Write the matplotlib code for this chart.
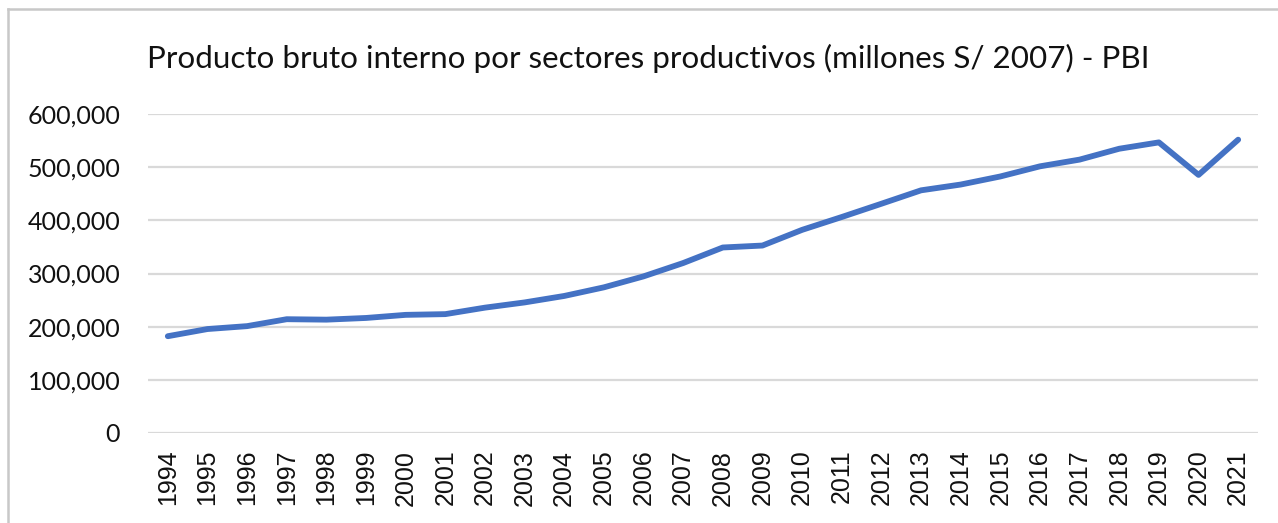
import matplotlib
matplotlib.use("Agg")
import matplotlib.pyplot as plt
from matplotlib.ticker import FuncFormatter, MultipleLocator
from matplotlib.lines import Line2D

# Producto bruto interno (millones de soles de 2007)
years = list(range(1994, 2022))
pbi = [182044, 195536, 201009, 214028, 213190, 216377, 222207, 223580,
       235773, 245593, 257770, 273971, 294598, 319693, 348923, 352584,
       382081, 406256, 431199, 456435, 467308, 482506, 501581, 514215,
       534665, 546605, 485455, 551714]
title = "Producto bruto interno por sectores productivos (millones S/ 2007) - PBI"

W, H = 1278, 523
fig = plt.figure(figsize=(W / 100, H / 100), dpi=100)
ax = fig.add_axes([148 / W, 1 - 433 / H, 1110 / W, 319 / H])

x = list(range(len(years)))
ax.plot(x, pbi, color="#4472C4", linewidth=4.2, solid_capstyle="round",
        solid_joinstyle="round", zorder=3)

ax.set_xlim(-0.5, len(years) - 0.5)
ax.set_ylim(0, 600000)
ax.yaxis.set_major_locator(MultipleLocator(100000))
ax.yaxis.set_major_formatter(FuncFormatter(lambda v, p: f"{int(v):,}"))
ax.grid(axis="y", color="#d9d9d9", linewidth=1.6)
ax.set_axisbelow(True)
for s in ax.spines.values():
    s.set_visible(False)

ax.set_xticks(x)
ax.set_xticklabels([str(y) for y in years], rotation=90, family="Liberation Sans",
                   fontsize=18, color="#111111")
ax.tick_params(axis="x", length=0, pad=12)
ax.tick_params(axis="y", length=0, pad=20)
for lbl in ax.get_yticklabels():
    lbl.set_family("Lato")
    lbl.set_fontsize(18)
    lbl.set_color("#111111")

fig.text(648 / W, 1 - 58 / H, title, ha="center", va="center", family="Lato",
         fontsize=22.6, color="#111111")

# chart frame: left and top edges
fig.add_artist(Line2D([8 / W, 8 / W], [0, 1 - 9 / H], transform=fig.transFigure,
                      color="#c8c8c8", linewidth=1.8))
fig.add_artist(Line2D([8 / W, 1], [1 - 9 / H, 1 - 9 / H], transform=fig.transFigure,
                      color="#c8c8c8", linewidth=1.8))

fig.savefig("out.png", dpi=100, facecolor="white")
